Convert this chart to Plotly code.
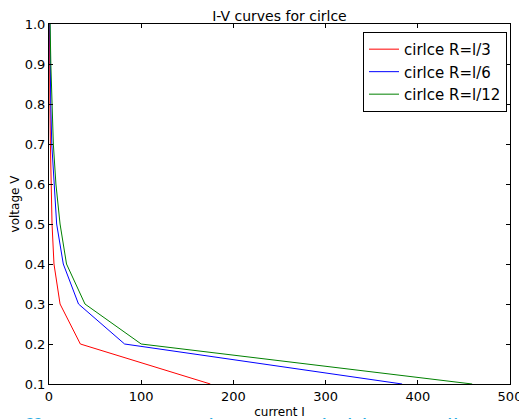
import plotly.graph_objects as go

voltage = [0.1, 0.2, 0.3, 0.4, 0.5, 0.6, 0.7, 0.8, 0.9, 1.0]
current_r3 = [175, 34, 12, 5.4, 3.3, 2.2, 1.5, 1.0, 0.7, 0.5]
current_r6 = [383, 82, 32, 15.5, 8.3, 5.4, 3.0, 1.9, 1.3, 0.9]
current_r12 = [459, 100, 39, 19, 12, 7.5, 4.7, 3.0, 2.0, 1.2]
names = ["cirlce R=l/3", "cirlce R=l/6", "cirlce R=l/12"]
colors = ["#ff0000", "#0000ff", "#008000"]
x_ticks = [0, 100, 200, 300, 400, 500]
y_ticks = [0.1, 0.2, 0.3, 0.4, 0.5, 0.6, 0.7, 0.8, 0.9, 1.0]

FONT = "DejaVu Sans"
fig = go.Figure()
for xs, nm, c in zip([current_r3, current_r6, current_r12], names, colors):
    fig.add_trace(go.Scatter(x=xs, y=voltage, mode="lines", name=nm,
                             line=dict(color=c, width=1)))

axis_common = dict(showline=True, linecolor="black", linewidth=1, mirror="ticks",
                   ticks="inside", ticklen=4, tickcolor="black", showgrid=False,
                   zeroline=False, automargin=False,
                   tickfont=dict(family=FONT, size=13, color="black"))
fig.update_xaxes(range=[0, 500], tickvals=x_ticks, ticktext=[str(v) for v in x_ticks],
                 title=dict(text="current I", font=dict(family=FONT, size=12, color="black"), standoff=8),
                 **axis_common)
fig.update_yaxes(range=[0.1, 1.0], tickvals=y_ticks, ticktext=[f"{v:.1f}" for v in y_ticks],
                 title=dict(text="voltage V", font=dict(family=FONT, size=12, color="black"), standoff=5),
                 **axis_common)

# page body has an 8px margin: figure is sized/offset to compensate
fig.update_layout(
    width=519, height=411,
    margin=dict(l=41, r=17, t=16, b=35, autoexpand=False),
    paper_bgcolor="white", plot_bgcolor="white",
    title=dict(text="I-V curves for cirlce", x=0.523, xanchor="center", y=0.992, yanchor="top",
               font=dict(family=FONT, size=14, color="black"), automargin=False),
    legend=dict(x=0.9935, xanchor="right", y=0.978, yanchor="top",
                bordercolor="black", borderwidth=1, bgcolor="white",
                font=dict(family=FONT, size=15, color="black"),
                tracegroupgap=0, itemwidth=30),
    showlegend=True,
)
fig.add_annotation(text="Effective current density  Reliable   small", xref="paper", yref="paper",
                   x=-0.09, xanchor="left", y=-0.067, yanchor="top", showarrow=False,
                   font=dict(family="Open Sans", size=24, color="#29abe2"))
fig.write_html("out.html")
